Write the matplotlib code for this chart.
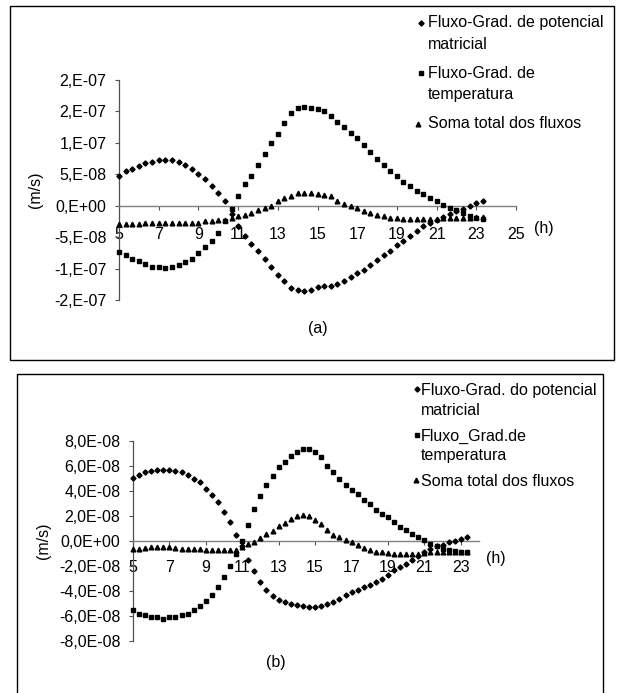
import matplotlib
matplotlib.use('Agg')
import matplotlib.pyplot as plt
from matplotlib.patches import Rectangle
from matplotlib.lines import Line2D

plt.rcParams['font.family'] = ['Liberation Sans', 'DejaVu Sans']

# ---------------- data (flux values in units of 1e-8 m/s) ----------------
hours = [5.00, 5.33, 5.67, 6.00, 6.33, 6.67, 7.00, 7.33, 7.67, 8.00, 8.33, 8.67,
         9.00, 9.33, 9.67, 10.00, 10.33, 10.67, 11.00, 11.33, 11.67, 12.00, 12.33,
         12.67, 13.00, 13.33, 13.67, 14.00, 14.33, 14.67, 15.00, 15.33, 15.67, 16.00,
         16.33, 16.67, 17.00, 17.33, 17.67, 18.00, 18.33, 18.67, 19.00, 19.33, 19.67,
         20.00, 20.33, 20.67, 21.00, 21.33, 21.67, 22.00, 22.33, 22.67, 23.00, 23.33]

a_matric = [4.7, 5.5, 5.9, 6.3, 6.75, 7.0, 7.2, 7.2, 7.2, 6.9, 6.5, 5.9, 5.1, 4.2, 3.2, 2.0, 0.7, -1.3,
            -3.3, -4.8, -6.1, -7.2, -8.5, -9.7, -11.0, -11.9, -13.1, -13.4, -13.6,
            -13.4, -13.0, -12.8, -12.7, -12.4, -11.9, -11.3, -10.7, -10.2, -9.5, -8.7, -7.8, -7.2, -6.3, -5.6, -4.8,
            -4.0, -3.3, -2.7, -2.2, -1.8, -1.3, -0.9, -0.5, 0.0, 0.4, 0.7]
a_temp = [-7.4, -7.9, -8.4, -8.8, -9.3, -9.7, -9.7, -9.9, -9.7, -9.5, -9.0, -8.4, -7.6, -6.6, -5.6, -4.3, -2.4, -0.5,
          1.5, 3.4, 4.7, 6.4, 8.2, 9.9, 11.4, 13.2, 14.8, 15.5, 15.7, 15.6, 15.4, 15.0, 14.2,
          13.3, 12.6, 11.5, 10.7, 9.7, 8.6, 7.5, 6.4, 5.6, 4.7, 3.8, 3.2, 2.4, 1.9, 1.3, 0.8, 0.1, -0.4, -0.7, -1.2,
          -1.7, -2.0, -2.1]
a_sum = [-2.9, -2.9, -2.9, -2.9, -2.8, -2.7, -2.7, -2.7, -2.7, -2.7, -2.7, -2.7, -2.7, -2.4, -2.4, -2.3, -2.2,
         -1.9, -1.7, -1.4, -1.2, -0.7, -0.4, 0.0, 0.7, 1.2, 1.6, 2.0, 2.0, 2.0, 1.9,
         1.7, 1.5, 0.8, 0.3, -0.1, -0.4, -0.8, -1.2, -1.4, -1.7, -1.9, -1.9, -2.1, -2.1, -2.1, -2.1, -2.1, -2.1,
         -2.0, -1.9, -1.9, -1.9, -1.9, -1.8, -1.8]

b_matric = [5.07, 5.3, 5.5, 5.6, 5.7, 5.7, 5.7, 5.6, 5.5, 5.3, 5.0, 4.7, 4.2, 3.7, 3.1, 2.3, 1.5,
            0.5, -0.4, -1.5, -2.4, -3.3, -3.9, -4.4, -4.7, -4.9, -5.0, -5.1, -5.2,
            -5.3, -5.3, -5.2, -5.0, -4.9, -4.6, -4.3, -4.1, -3.9, -3.7, -3.5, -3.3, -3.0, -2.7, -2.3, -2.1,
            -1.8, -1.5, -1.2, -0.9, -0.6, -0.4, -0.3, -0.1, 0.0, 0.2, 0.35]
b_temp = [-5.5, -5.8, -5.9, -6.05, -6.1, -6.2, -6.1, -6.1, -5.9, -5.8, -5.5, -5.2, -4.8, -4.3, -3.7, -2.9,
          -2.0, -1.0, 0.0, 1.25, 2.6, 3.6, 4.5, 5.2, 5.9, 6.3, 6.8,
          7.1, 7.35, 7.35, 7.1, 6.7,
          6.0, 5.5, 5.0, 4.5, 4.1, 3.8, 3.3, 3.0, 2.5, 2.2, 1.9, 1.5, 1.1, 0.9, 0.6, 0.35, 0.1, -0.2, -0.4,
          -0.6, -0.7, -0.8, -0.9, -0.9]
b_sum = [-0.67, -0.64, -0.53, -0.5, -0.5, -0.48, -0.48, -0.53, -0.6, -0.6, -0.62, -0.62, -0.7, -0.72, -0.72,
         -0.72, -0.75, -0.72, -0.48, -0.27, -0.1, 0.27, 0.6, 0.8, 1.17, 1.44, 1.8, 2.0, 2.08,
         2.0, 1.7, 1.36, 0.88, 0.48, 0.3, 0.08, -0.1, -0.32, -0.53, -0.72, -0.85, -0.9, -0.93, -1.0, -1.0,
         -1.0, -1.0, -1.0, -0.95, -0.85, -0.85, -0.85, -0.85, -0.85, -0.9, -0.9]
UNIT = 1e-8

a_xticks = [5, 7, 9, 11, 13, 15, 17, 19, 21, 23, 25]
a_yticks = [-1.5e-7, -1e-7, -5e-8, 0, 5e-8, 1e-7, 1.5e-7, 2e-7]
a_ylabels = ['-2,E-07', '-1,E-07', '-5,E-08', '0,E+00', '5,E-08', '1,E-07', '2,E-07', '2,E-07']
b_xticks = [5, 7, 9, 11, 13, 15, 17, 19, 21, 23]
b_yticks = [-8e-8, -6e-8, -4e-8, -2e-8, 0, 2e-8, 4e-8, 6e-8, 8e-8]
b_ylabels = ['-8,0E-08', '-6,0E-08', '-4,0E-08', '-2,0E-08', '0,0E+00', '2,0E-08', '4,0E-08',
             '6,0E-08', '8,0E-08']

a_legend = [['Fluxo-Grad. de potencial', 'matricial'], ['Fluxo-Grad. de', 'temperatura'],
            ['Soma total dos fluxos']]
b_legend = [['Fluxo-Grad. do potencial', 'matricial'], ['Fluxo_Grad.de', 'temperatura'],
            ['Soma total dos fluxos']]

# ---------------- figure ----------------
W, H = 624, 693
fig = plt.figure(figsize=(W / 100, H / 100), dpi=100)
FS = 11.5


def fx(x):
    return x / W


def fy(y):
    return 1 - y / H


def make_axes(x0, x1, ytop, ybot):
    return fig.add_axes([fx(x0), fy(ybot), fx(x1) - fx(x0), fy(ytop) - fy(ybot)])


MARKERS = [('D', 2.6), ('s', 3.0), ('^', 3.4)]


def draw_panel(ax, series, xlim, ylim, xticks, yticks, ylabels, xpad):
    for (m, ms), vals in zip(MARKERS, series):
        ax.plot(hours, [v * UNIT for v in vals], linestyle='none', marker=m, ms=ms,
                color='black', mec='black', clip_on=False, zorder=3)
    ax.set_xlim(*xlim)
    ax.set_ylim(*ylim)
    ax.patch.set_visible(False)
    for s in ('top', 'right'):
        ax.spines[s].set_visible(False)
    ax.spines['bottom'].set_position(('data', 0))
    ax.spines['bottom'].set_color('#808080')
    ax.spines['bottom'].set_linewidth(1.0)
    ax.spines['left'].set_color('#505050')
    ax.spines['left'].set_linewidth(0.9)
    ax.set_xticks(xticks)
    ax.set_xticklabels([str(v) for v in xticks])
    ax.set_yticks(yticks)
    ax.set_yticklabels(ylabels)
    ax.tick_params(axis='x', direction='out', length=3, width=0.8, colors='#505050',
                   labelcolor='black', pad=xpad, labelsize=FS)
    ax.tick_params(axis='y', direction='out', length=3, width=0.8, colors='#505050',
                   labelcolor='black', pad=6, labelsize=FS)


def draw_legend(entries, mk_pos, text_x, baselines):
    bi = 0
    for (m, ms), lines, (mx, my) in zip(MARKERS, entries, mk_pos):
        fig.add_artist(Line2D([fx(mx)], [fy(my)], transform=fig.transFigure, linestyle='none',
                              marker=m, ms=ms, color='black'))
        for line in lines:
            fig.text(fx(text_x), fy(baselines[bi]), line, fontsize=FS, ha='left', va='baseline')
            bi += 1


# panel (a)
fig.add_artist(Rectangle((fx(10), fy(360)), fx(614) - fx(10), fy(6) - fy(360),
                         transform=fig.transFigure, fill=False, ec='black', lw=1.0))
axa = make_axes(119, 516, 80, 300)
draw_panel(axa, [a_matric, a_temp, a_sum], (5, 25), (-1.5e-7, 2e-7), a_xticks, a_yticks, a_ylabels, 12)
fig.text(fx(36), fy(190), '(m/s)', rotation=90, ha='center', va='center', fontsize=FS)
fig.text(fx(544), fy(228), '(h)', ha='center', va='center', fontsize=FS)
fig.text(fx(318), fy(328), '(a)', ha='center', va='center', fontsize=FS)
draw_legend(a_legend, [(421, 23), (421, 73), (418, 124)], 428, [27, 49, 78, 99, 128])

# panel (b)
fig.add_artist(Rectangle((fx(17), fy(700)), fx(603) - fx(17), fy(374) - fy(700),
                         transform=fig.transFigure, fill=False, ec='black', lw=1.0))
axb = make_axes(133, 479, 441, 641)
draw_panel(axb, [b_matric, b_temp, b_sum], (5, 24), (-8e-8, 8e-8), b_xticks, b_yticks, b_ylabels, 11)
fig.text(fx(43), fy(541), '(m/s)', rotation=90, ha='center', va='center', fontsize=FS)
fig.text(fx(496), fy(558), '(h)', ha='center', va='center', fontsize=FS)
fig.text(fx(276), fy(662), '(b)', ha='center', va='center', fontsize=FS)
draw_legend(b_legend, [(417, 389), (417, 435), (416, 480)], 421, [395, 415, 441, 460, 486])

fig.savefig('out.png', dpi=100)
